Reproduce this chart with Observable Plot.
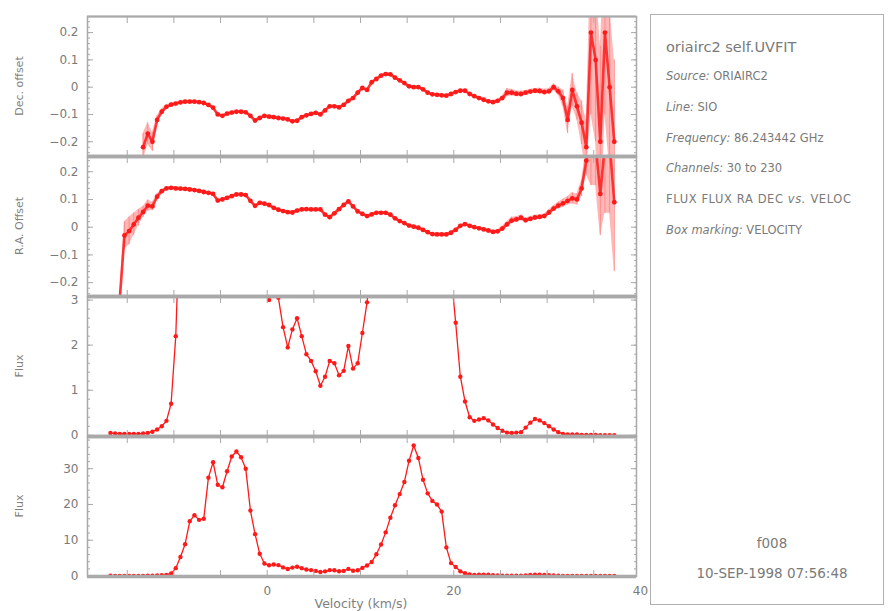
<!DOCTYPE html>
<html>
<head>
<meta charset="utf-8">
<script src="https://cdn.jsdelivr.net/npm/d3@7"></script>
<script src="https://cdn.jsdelivr.net/npm/@observablehq/plot@0.6"></script>
<style>
  html, body { margin: 0; padding: 0; background: #fff; }
  #root { position: relative; width: 888px; height: 611px; overflow: hidden; background: #fff; font-family: "DejaVu Sans", sans-serif; color: #7a7a7a; }
  .panel { position: absolute; left: 0; }
  .ylab { position: absolute; font-size: 11px; white-space: nowrap; transform: translate(-50%, -50%) rotate(-90deg); color: #808080; }
  .xlab { position: absolute; font-size: 12.5px; white-space: nowrap; transform: translate(-50%, -50%); color: #808080; }
  #box { position: absolute; left: 650px; top: 14px; width: 234px; height: 591px; border: 1.5px solid #b0b0b0; box-sizing: border-box; }
  .info { position: absolute; left: 666px; white-space: nowrap; font-size: 11.5px; line-height: 16px; color: #7a7a7a; }
  .info i { font-style: italic; }
  .cen { position: absolute; white-space: nowrap; font-size: 13.5px; line-height: 16px; transform: translateX(-50%); color: #7a7a7a; }
</style>
</head>
<body>
<div id="root">
  <div id="box"></div>
</div>
<script>
// ---------------- data ----------------
const velocity = [
  -16.8,-16.3,-15.8,-15.3,-14.8,-14.3,-13.8,-13.3,-12.8,-12.3,
  -11.8,-11.3,-10.8,-10.3,-9.8,-9.3,-8.8,-8.3,-7.8,-7.3,
  -6.8,-6.3,-5.8,-5.3,-4.8,-4.3,-3.8,-3.3,-2.8,-2.3,
  -1.8,-1.3,-0.8,-0.3,0.2,0.7,1.2,1.7,2.2,2.7,
  3.2,3.7,4.2,4.7,5.2,5.7,6.2,6.7,7.2,7.7,
  8.2,8.7,9.2,9.7,10.2,10.7,11.2,11.7,12.2,12.7,
  13.2,13.7,14.2,14.7,15.2,15.7,16.2,16.7,17.2,17.7,
  18.2,18.7,19.2,19.7,20.2,20.7,21.2,21.7,22.2,22.7,
  23.2,23.7,24.2,24.7,25.2,25.7,26.2,26.7,27.2,27.7,
  28.2,28.7,29.2,29.7,30.2,30.7,31.2,31.7,32.2,32.7,
  33.2,33.7,34.2,34.7,35.2,35.7,36.2,36.7,37.2
];

const flux = [
  0.05,0.04,0.03,0.03,0.03,0.03,0.03,0.04,0.05,0.08,
  0.13,0.2,0.32,0.7,2.2,5.3,8.9,15.3,17.0,15.7,
  16.0,27.5,31.8,25.5,24.8,29.3,33.4,34.8,33.2,30.0,
  18.3,11.7,6.2,3.5,3.0,3.2,3.05,2.4,1.95,2.35,
  2.6,2.2,1.8,1.65,1.42,1.1,1.3,1.65,1.6,1.33,
  1.43,1.98,1.48,1.6,2.27,2.95,3.9,6.1,8.8,12.2,
  16.3,19.8,22.9,26.3,32.2,36.5,33.0,26.9,23.1,21.0,
  20.0,18.0,8.0,3.6,2.5,1.3,0.75,0.4,0.32,0.35,
  0.38,0.33,0.24,0.16,0.1,0.06,0.05,0.06,0.07,0.17,
  0.28,0.36,0.33,0.27,0.2,0.13,0.07,0.03,0.02,0.02,
  0.02,0.01,0.01,0.01,0.01,0.0,0.0,0.0,0.0
];

const decOffset = [
  null,null,null,null,null,null,null,-0.22,-0.17,-0.2,
  -0.12,-0.09,-0.072,-0.064,-0.06,-0.056,-0.053,-0.053,-0.053,-0.055,
  -0.058,-0.065,-0.075,-0.1,-0.105,-0.097,-0.093,-0.09,-0.09,-0.092,
  -0.105,-0.122,-0.113,-0.105,-0.108,-0.11,-0.113,-0.115,-0.118,-0.125,
  -0.123,-0.11,-0.103,-0.098,-0.094,-0.1,-0.085,-0.07,-0.07,-0.074,
  -0.065,-0.05,-0.04,-0.02,-0.003,-0.01,0.018,0.03,0.042,0.048,
  0.047,0.035,0.025,0.015,0.003,0.0,0.0,-0.008,-0.02,-0.026,
  -0.028,-0.03,-0.031,-0.025,-0.018,-0.013,-0.013,-0.025,-0.033,-0.04,
  -0.046,-0.052,-0.055,-0.05,-0.04,-0.02,-0.02,-0.024,-0.025,-0.02,
  -0.016,-0.013,-0.014,-0.018,-0.015,0.0,-0.015,-0.04,-0.12,-0.01,
  -0.07,-0.13,-0.22,0.2,0.1,-0.2,0.2,0.0,-0.2
];
const decError = [
  0,0,0,0,0,0,0,0.05,0.04,0.035,
  0.015,0.01,0.008,0.006,0.005,0.005,0.005,0.005,0.005,0.005,
  0.005,0.005,0.005,0.005,0.005,0.005,0.005,0.005,0.005,0.005,
  0.005,0.005,0.005,0.005,0.005,0.005,0.005,0.005,0.005,0.005,
  0.005,0.005,0.005,0.005,0.005,0.005,0.005,0.005,0.005,0.005,
  0.005,0.005,0.005,0.005,0.005,0.005,0.005,0.005,0.005,0.005,
  0.005,0.005,0.005,0.005,0.005,0.005,0.005,0.005,0.005,0.005,
  0.005,0.005,0.005,0.005,0.005,0.005,0.005,0.005,0.005,0.006,
  0.006,0.006,0.006,0.006,0.008,0.015,0.012,0.01,0.01,0.008,
  0.008,0.008,0.01,0.01,0.01,0.012,0.015,0.03,0.05,0.06,
  0.05,0.08,0.1,0.3,0.3,0.35,0.3,0.3,0.3
];

const raOffset = [
  null,null,-0.26,-0.03,-0.014,0.01,0.034,0.055,0.078,0.075,
  0.11,0.13,0.14,0.142,0.14,0.139,0.138,0.136,0.134,0.131,
  0.127,0.124,0.12,0.096,0.1,0.106,0.112,0.118,0.118,0.116,
  0.095,0.077,0.088,0.085,0.08,0.07,0.063,0.058,0.054,0.053,
  0.06,0.064,0.065,0.064,0.064,0.064,0.045,0.036,0.05,0.065,
  0.08,0.093,0.075,0.057,0.048,0.04,0.046,0.052,0.052,0.052,
  0.045,0.032,0.022,0.015,0.006,0.002,-0.002,-0.01,-0.018,-0.025,
  -0.026,-0.026,-0.026,-0.02,-0.01,0.005,0.011,0.005,0.0,-0.004,
  -0.008,-0.012,-0.017,-0.015,-0.005,0.01,0.024,0.028,0.034,0.025,
  0.03,0.035,0.037,0.04,0.053,0.067,0.078,0.086,0.095,0.104,
  0.1,0.14,0.24,0.3,0.3,0.12,0.3,0.3,0.09
];
const raError = [
  0,0,0.03,0.05,0.05,0.04,0.03,0.02,0.02,0.015,
  0.01,0.006,0.005,0.005,0.005,0.005,0.005,0.005,0.005,0.005,
  0.005,0.005,0.005,0.005,0.005,0.005,0.005,0.005,0.005,0.005,
  0.005,0.005,0.005,0.005,0.005,0.005,0.005,0.005,0.005,0.005,
  0.005,0.005,0.005,0.005,0.005,0.005,0.005,0.005,0.005,0.005,
  0.005,0.005,0.005,0.005,0.005,0.005,0.005,0.005,0.005,0.005,
  0.005,0.005,0.005,0.005,0.005,0.005,0.005,0.005,0.005,0.005,
  0.005,0.005,0.005,0.005,0.005,0.005,0.005,0.005,0.005,0.005,
  0.006,0.006,0.006,0.006,0.008,0.01,0.012,0.01,0.01,0.008,
  0.008,0.008,0.008,0.008,0.01,0.01,0.012,0.015,0.015,0.02,
  0.02,0.03,0.05,0.15,0.15,0.15,0.25,0.25,0.25
];

const offsetTicks = [-0.2, -0.1, 0, 0.1, 0.2];
const fluxLowTicks = [0, 1, 2, 3];
const fluxHighTicks = [0, 10, 20, 30];
const velocityTicks = [-15, -10, -5, 0, 5, 10, 15, 20, 25, 30, 35];
const velocityLabels = [0, 20, 40];

const titleText = "oriairc2 self.UVFIT";
const infoLines = [
  ["Source:", "ORIAIRC2"],
  ["Line:", "SIO"],
  ["Frequency:", "86.243442 GHz"],
  ["Channels:", "30 to 230"],
  [null, "FLUX FLUX RA DEC <i>vs.</i> VELOC"],
  ["Box marking:", "VELOCITY"]
];
const footerLines = ["f008", "10-SEP-1998 07:56:48"];

// ---------------- layout ----------------
const root = document.getElementById("root");
const xDomain = [-19.26, 39.58];
const GRID = "#a9a9a9";
const RED = "#ff1a1a";

function offsetFmt(d) { return d === 0 ? "0" : d3.format(".1f")(d); }
function intFmt(d) { return d3.format("d")(d); }

function panel(cfg) {
  const mt = 3, mb = cfg.last ? 40 : 3, h = 140;
  const rows = velocity.map((v, i) => ({v, y: cfg.series[i], e: cfg.err ? cfg.err[i] : 0}));
  const valid = rows.filter(d => d.y != null);
  const lo = d => d.y == null ? NaN : d.y - d.e;
  const hi = d => d.y == null ? NaN : d.y + d.e;
  const marks = [];
  if (cfg.err) {
    marks.push(Plot.areaY(rows, {x: "v", y1: lo, y2: hi, fill: "#ffb8b8", clip: true}));
    marks.push(Plot.ruleX(valid, {x: "v", y1: lo, y2: hi, stroke: "#ff8a8a", strokeWidth: 1, clip: true}));
    marks.push(Plot.line(rows, {x: "v", y: "y", stroke: RED, strokeWidth: 2.6, strokeOpacity: 0.85, clip: true}));
    marks.push(Plot.dot(valid, {x: "v", y: "y", r: 2.4, fill: RED, stroke: "none", clip: true}));
  } else {
    marks.push(Plot.line(rows, {x: "v", y: "y", stroke: RED, strokeWidth: 1.3, clip: true}));
    marks.push(Plot.dot(valid, {x: "v", y: "y", r: 2.2, fill: RED, stroke: "none", clip: true}));
  }
  // axes: inward ticks on all sides
  marks.push(
    Plot.axisY({ticks: cfg.minors, anchor: "left", tickSize: 3, dx: 3, fill: "none", stroke: GRID, label: null}),
    Plot.axisY({ticks: cfg.majors, anchor: "left", tickSize: 6, dx: 6, fill: "none", stroke: GRID, label: null}),
    Plot.axisY({ticks: cfg.majors, anchor: "left", tickSize: 0, tickPadding: 9, tickFormat: cfg.fmt, fill: "#7a7a7a", label: null}),
    Plot.axisY({ticks: cfg.minors, anchor: "right", tickSize: 3, dx: -3, fill: "none", stroke: GRID, label: null}),
    Plot.axisY({ticks: cfg.majors, anchor: "right", tickSize: 6, dx: -6, fill: "none", stroke: GRID, label: null}),
    Plot.axisX({ticks: velocityTicks, anchor: "top", tickSize: 6, dy: 6, fill: "none", stroke: GRID, label: null}),
    Plot.axisX({ticks: velocityTicks, anchor: "bottom", tickSize: 6, dy: -6, fill: "none", stroke: GRID, label: null})
  );
  if (cfg.last) {
    marks.push(Plot.axisX({ticks: velocityLabels, anchor: "bottom", tickSize: 0, tickPadding: 10, tickFormat: intFmt, fill: "#7a7a7a", label: null}));
  }
  marks.push(Plot.frame({stroke: GRID, strokeWidth: 1.5}));
  marks.push(Plot.ruleY([cfg.yDomain[0]], {stroke: GRID, strokeWidth: 3.5}));
  marks.push(Plot.ruleY([cfg.yDomain[1]], {stroke: GRID, strokeWidth: cfg.first ? 2 : 3.5}));

  const svg = Plot.plot({
    width: 640,
    height: h + mt + mb,
    marginLeft: 87,
    marginRight: 4,
    marginTop: mt,
    marginBottom: mb,
    style: {background: "transparent", overflow: "visible", fontFamily: "DejaVu Sans, sans-serif", fontSize: "12px", color: "#7a7a7a"},
    x: {domain: xDomain},
    y: {domain: cfg.yDomain},
    marks
  });
  svg.classList.add("panel");
  svg.style.top = (cfg.top - mt) + "px";
  svg.style.position = "absolute";
  svg.style.left = "0px";
  svg.style.overflow = "visible";
  root.appendChild(svg);

  const lab = document.createElement("div");
  lab.className = "ylab";
  lab.textContent = cfg.label;
  lab.style.left = "19px";
  lab.style.top = (cfg.top + h / 2) + "px";
  root.appendChild(lab);
}

panel({first: true, top: 15.5, series: decOffset, err: decError, yDomain: [-0.254, 0.259],
  majors: offsetTicks, minors: d3.range(-24, 25, 2).map(d => d / 100), fmt: offsetFmt, label: "Dec. offset"});
panel({top: 155.5, series: raOffset, err: raError, yDomain: [-0.25, 0.255],
  majors: offsetTicks, minors: d3.range(-24, 25, 2).map(d => d / 100), fmt: offsetFmt, label: "R.A. Offset"});
panel({top: 295.5, series: flux, yDomain: [-0.027, 3.08],
  majors: fluxLowTicks, minors: d3.range(0, 31, 2).map(d => d / 10), fmt: intFmt, label: "Flux"});
panel({last: true, top: 435.5, series: flux, yDomain: [-0.14, 39.0],
  majors: fluxHighTicks, minors: d3.range(0, 39, 2), fmt: intFmt, label: "Flux"});

const xl = document.createElement("div");
xl.className = "xlab";
xl.textContent = "Velocity (km/s)";
xl.style.left = "361px";
xl.style.top = "603px";
root.appendChild(xl);

// ---------------- info box ----------------
const t = document.createElement("div");
t.className = "info";
t.style.fontSize = "14.5px";
t.style.top = (46.5 - 9) + "px";
t.style.lineHeight = "18px";
t.textContent = titleText;
root.appendChild(t);
const centers = [76, 106.7, 137.7, 168.3, 199.3, 230];
infoLines.forEach((ln, i) => {
  const d = document.createElement("div");
  d.className = "info";
  d.style.top = (centers[i] - 8) + "px";
  if (i === 4) d.style.letterSpacing = "0.6px";
  d.innerHTML = (ln[0] ? "<i>" + ln[0] + "</i> " : "") + ln[1];
  root.appendChild(d);
});
[543, 573].forEach((c, i) => {
  const d = document.createElement("div");
  d.className = "cen";
  d.style.left = "772px";
  d.style.top = (c - 8) + "px";
  d.textContent = footerLines[i];
  root.appendChild(d);
});
</script>
</body>
</html>
